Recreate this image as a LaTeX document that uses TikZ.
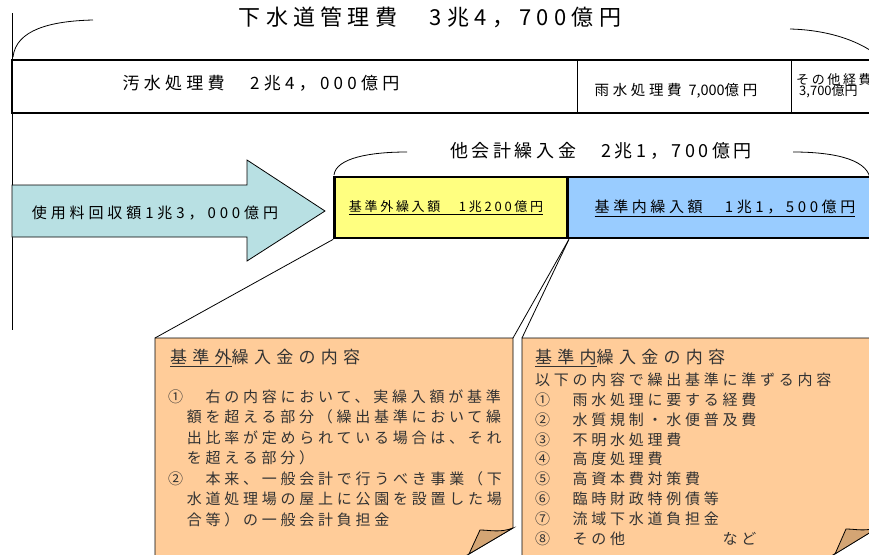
\documentclass[tikz,border=0pt]{standalone}
\usepackage{fontspec}
\setmainfont{Noto Sans CJK JP}

\definecolor{arrowblue}{HTML}{B8E0E3}
\definecolor{gaiyellow}{HTML}{FFFF80}
\definecolor{naiblue}{HTML}{99CCFF}
\definecolor{notepeach}{HTML}{FFCC99}
\definecolor{notefold}{HTML}{D4A574}

% size, leading, letter spacing
\newcommand{\jfs}[3]{\fontsize{#1}{#2}\selectfont\addfontfeature{LetterSpace=#3}}

\begin{document}
\begin{tikzpicture}
	[x=1pt,y=-1pt,
		thickbox/.style={draw,line width=2.8pt},
		thinline/.style={line width=0.8pt},
		jtext/.style={inner sep=0pt,text height=0.88em,text depth=0.12em},
		noteline/.style={jtext,anchor=west,text=black!80,font=\jfs{15}{18}{25}}]
		\tikzstyle{notebody}=[fill=notepeach,draw=black,line width=0.8pt]
		\tikzstyle{notefoldst}=[fill=notefold,draw=black,line width=0.8pt]

	\useasboundingbox (0,0) rectangle (869,554);
	\clip (0,0) rectangle (869,554);

	% total cost
	\draw[thinline] (12,13) -- (12,330);
	\node (total) at (430,22) [jtext,font=\jfs{22}{25}{24}] {下水道管理費　3兆4，700億円};
	\draw[thinline] (13,57) .. controls (16,30) and (50,21) .. (93,20);
	\draw[thinline] (790,29) .. controls (830,30) and (865,42) .. (885,62);

	\draw[thickbox] (12,60) rectangle (895,113);
	\draw[thinline] (577,60) -- (577,113);
	\draw[thinline] (791,60) -- (791,113);
	\node (osui) at (261,86) [jtext,font=\jfs{17}{20}{25}] {汚水処理費　2兆4，000億円};
	\node (usui) at (676,92) [jtext,font=\jfs{14.5}{17}{25}] {雨水処理費 {\addfontfeature{LetterSpace=0}7,000}億円};
	\node (sonota) at (796,80.5) [jtext,anchor=west,font=\jfs{13}{15}{20}] {その他経費};
	\node (sonotagaku) at (799,92) [jtext,anchor=west,font=\jfs{13}{15}{0}] {3,700億円};

	% fee income
	\path[draw=black,thinline,fill=arrowblue] (12,185) -- (247,185) -- (247,160)
		-- (325,211) -- (247,261) -- (247,237) -- (12,237) -- cycle;
	\node (ryokin) at (155,215) [jtext,font=\jfs{15}{18}{26}] {使用料回収額1兆3，000億円};

	% transfers from other accounts
	\node (kuri) at (601,154) [jtext,font=\jfs{18}{21}{20}] {他会計繰入金　2兆1，700億円};
	\draw[thinline] (334,175) .. controls (336,158) and (370,152) .. (407,152);
	\draw[thinline] (793,152) .. controls (830,152) and (866,158) .. (870,178);

	\node (nai) at (731,207.5) [thickbox,fill=naiblue,minimum width=328pt,minimum height=61pt] {};
	\node (gai) at (451,207.5) [thickbox,fill=gaiyellow,minimum width=233pt,minimum height=61pt] {};
	\node (gaitxt) at (446,208) [jtext,font=\jfs{13}{15}{21}] {\underline{基準外繰入額　1兆200億円}};
	\node (naitxt) at (725,209) [jtext,font=\jfs{15}{18}{24}] {\underline{基準内繰入額　1兆1，500億円}};

	% notes
	\coordinate (gaiNW) at (155,338);
	\coordinate (gaiNE) at (513,338);
	\coordinate (naiNW) at (522,338);
	\draw[thinline] (gai.south west) -- (gaiNW);
	\draw[thinline] (gai.south east) -- (gaiNE);
	\draw[thinline] (gai.south east) -- (naiNW);

	\path[notebody] (155,570) -- (gaiNW) -- (gaiNE) -- (513,528) -- (452,564);
	\path[notefoldst] (513,528) .. controls (500,533) and (490,530) .. (480,530) -- (469,554) -- cycle;
	\path[notebody] (522,570) -- (naiNW) -- (879,338) -- (879,527) -- (818,564);
	\path[notefoldst] (879,527) .. controls (866,532) and (856,529) .. (846,529) -- (835,554) -- cycle;

	\node (gaititle) at (170,360) [noteline,font=\jfs{17}{20}{31}] {\underline{基準外}繰入金の内容};
	\foreach \txt [count=\i] in {①　右の内容において、実繰入額が基準,
		　額を超える部分（繰出基準において繰,
		　出比率が定められている場合は、それ,
		　を超える部分）,
		②　本来、一般会計で行うべき事業（下,
		　水道処理場の屋上に公園を設置した場,
		　合等）の一般会計負担金}
		\node (gai\i) at (168,378+20.5*\i) [noteline] {\txt};

	\node (naititle) at (535,360) [noteline,font=\jfs{17}{20}{31}] {\underline{基準内}繰入金の内容};
	\foreach \txt [count=\i] in {以下の内容で繰出基準に準ずる内容,
		①　雨水処理に要する経費,
		②　水質規制・水便普及費,
		③　不明水処理費,
		④　高度処理費,
		⑤　高資本費対策費,
		⑥　臨時財政特例債等,
		⑦　流域下水道負担金,
		⑧　その他　　　　　など}
		\node (nai\i) at (535,361.6+19.9*\i) [noteline] {\txt};

%	\draw[thinline] (879,338) -- (nai.south east);
\end{tikzpicture}
\end{document}
